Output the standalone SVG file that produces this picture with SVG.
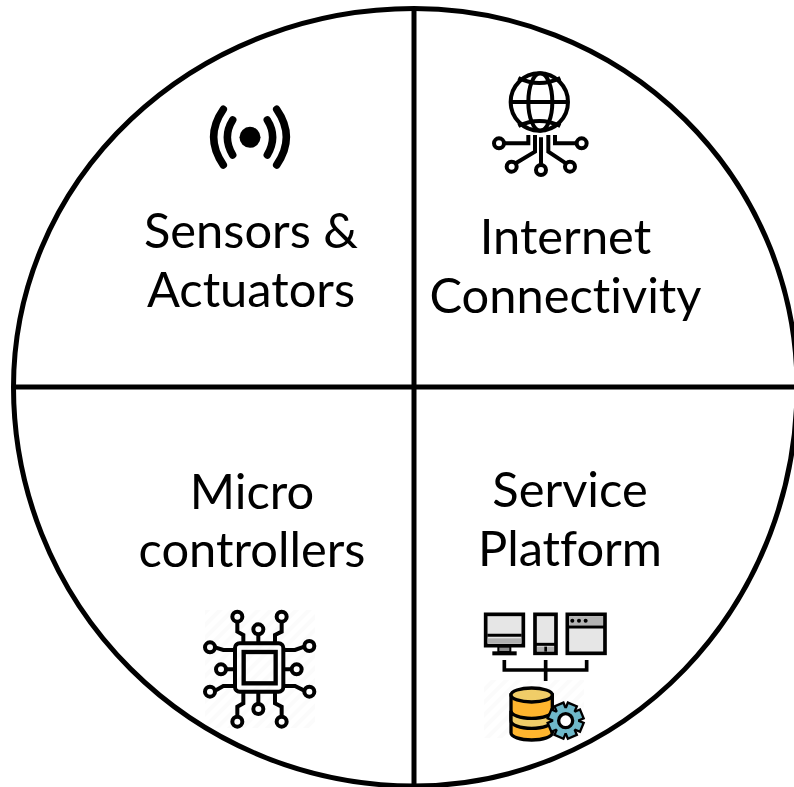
<svg xmlns="http://www.w3.org/2000/svg" width="794" height="787" viewBox="0 0 794 787">
<style>
.t{font-family:"Lato","Carlito","Liberation Sans",sans-serif;font-size:48.800px;fill:#000;text-anchor:middle;font-variant-ligatures:none}
.l{fill:none;stroke:#000;stroke-width:5}
.i{fill:none;stroke:#000;stroke-linecap:round;stroke-linejoin:round}
.k{stroke:#000;stroke-width:11;stroke-linejoin:miter}
</style>
<defs>
<pattern id="hatch" width="9" height="9" patternUnits="userSpaceOnUse" patternTransform="rotate(45)"><rect width="9" height="9" fill="#fff"/><rect width="4" height="9" fill="#fbfbfb"/></pattern>
<g id="teeth"><rect x="-11" y="-49" width="22" height="98"/><rect x="-11" y="-49" width="22" height="98" transform="rotate(45)"/><rect x="-11" y="-49" width="22" height="98" transform="rotate(90)"/><rect x="-11" y="-49" width="22" height="98" transform="rotate(135)"/><circle r="37"/></g>
</defs>
<rect width="794" height="787" fill="#fff"/>
<g id="sensors">
<text class="t" x="251" y="248">Sensors &amp;</text>
<text class="t" x="251" y="307">Actuators</text>
<g class="i" stroke-width="7.500">
<path d="M232.700 120Q222 137 232.700 155M267.300 120Q278 137 267.300 155M223.300 109.300Q204 137 223.300 165M276.700 109.300Q296 137 276.700 165"/>
</g>
<circle cx="250" cy="137.300" r="10.500"/>
</g>
<g id="internet">
<text class="t" x="565.500" y="254">Internet</text>
<text class="t" x="565.500" y="313">Connectivity</text>
<g transform="translate(480 60) scale(.3333)">
<g fill="none" stroke="#000" stroke-width="12">
<circle cx="178" cy="126" r="86"/>
<ellipse cx="181" cy="126" rx="36" ry="86"/>
<path d="M92 126H264M115 54Q178 84 241 54M115 198Q178 168 241 198"/>
<path d="M183 232V315M165 225V275L107 310M205 225V275L258 310M145 225V250H72M225 225V250H290"/>
<circle cx="183" cy="330" r="15"/><circle cx="95" cy="320" r="15"/><circle cx="270" cy="320" r="15"/><circle cx="57" cy="250" r="15"/><circle cx="305" cy="250" r="15"/>
</g></g>
</g>
<g id="microcontrollers">
<text class="t" x="252" y="509">Micro</text>
<text class="t" x="252" y="567">controllers</text>
<rect x="205" y="610" width="110" height="118" fill="url(#hatch)"/>
<g transform="translate(195 600) scale(.3333)" fill="none" stroke="#000" stroke-width="12">
<rect x="120" y="130" width="145" height="145" rx="14"/>
<rect x="146" y="156" width="96" height="94" stroke-width="13"/>
<path d="M127 65V95L145 105V130M190 102V130M260 65V95L240 105V130M60 142L85 150H120M92 208H120M60 272L85 258H120M328 140L300 150H265M290 208H265M328 272L300 258H265M127 350V320L145 310V275M190 313V275M260 350V320L240 310V275"/>
<circle cx="127" cy="50" r="15"/><circle cx="190" cy="88" r="15"/><circle cx="260" cy="50" r="15"/><circle cx="45" cy="142" r="15"/><circle cx="78" cy="208" r="15"/><circle cx="45" cy="275" r="15"/><circle cx="343" cy="138" r="15"/><circle cx="305" cy="208" r="15"/><circle cx="343" cy="275" r="15"/><circle cx="127" cy="365" r="15"/><circle cx="190" cy="327" r="15"/><circle cx="260" cy="365" r="15"/>
</g>
</g>
<g id="service">
<text class="t" x="570" y="507">Service</text>
<text class="t" x="570" y="566">Platform</text>
<rect x="484" y="680" width="100" height="58" fill="url(#hatch)"/>
<g transform="translate(475 600) scale(.3333)">
<rect class="k" x="32" y="43" width="113" height="94" fill="#e6e6e6"/>
<rect x="38" y="115" width="101" height="15" fill="#b0b0b0"/>
<path d="M37 106H140" stroke="#000" stroke-width="9"/>
<rect x="70" y="140" width="36" height="16" fill="#8c8c8c" stroke="#000" stroke-width="6"/>
<rect x="52" y="154" width="73" height="12"/>
<rect class="k" x="180" y="43" width="63" height="117" fill="#e6e6e6"/>
<path d="M180 133H243" stroke="#000" stroke-width="9"/>
<rect x="186" y="140" width="51" height="14" fill="#b0b0b0"/>
<path d="M212 140V155" stroke="#000" stroke-width="8"/>
<rect class="k" x="277" y="43" width="113" height="117" fill="#e6e6e6"/>
<rect x="283" y="49" width="101" height="27" fill="#b3b3b3"/>
<path d="M277 81H390" stroke="#000" stroke-width="9"/>
<circle cx="292" cy="62" r="6"/><circle cx="312" cy="62" r="6"/><circle cx="332" cy="62" r="6"/>
<path d="M88 180V210H335V180M212 180V243" fill="none" stroke="#000" stroke-width="11"/>
<path d="M108 285V398C108 410 135 420 170 420S232 410 232 398V285Z" fill="#ffb52e" stroke="#000" stroke-width="10"/>
<path d="M108 332C108 345 135 355 170 355S232 345 232 332V362C232 375 205 385 170 385S108 375 108 362Z" fill="#f0cd68" stroke="#000" stroke-width="10"/>
<ellipse cx="170" cy="285" rx="62" ry="21" fill="#f0cd68" stroke="#000" stroke-width="10"/>
<g transform="translate(272 362) rotate(22.500)">
<use href="#teeth" fill="#000" stroke="#000" stroke-width="14"/>
<use href="#teeth" fill="#6fb8c9"/>
</g>
<circle cx="272" cy="362" r="21" fill="#fff" stroke="#000" stroke-width="10"/>
</g>
</g>
<g id="connectors">
<path class="l" d="M13.500 387A400.500 378.500 0 0 1 414 8.500A383 378.500 0 0 1 797 387A383 399 0 0 1 414 786A400.500 399 0 0 1 13.500 387Z"/>
<path class="l" d="M414 8.500V787M13.500 387H794"/>
</g>
</svg>
